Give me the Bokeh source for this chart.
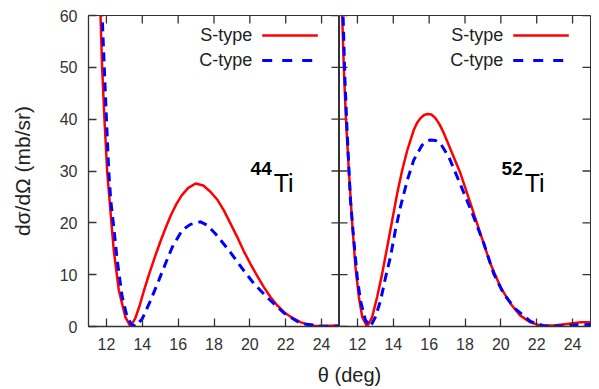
import math
from bokeh.plotting import figure
from bokeh.layouts import row, column
from bokeh.models import Range1d, FixedTicker, Label
from bokeh.embed import file_html
from bokeh.resources import INLINE

FONT = "Liberation Sans"
AX = "#333333"

# ---------------- data ----------------
x_ticks = [12, 14, 16, 18, 20, 22, 24]
y_ticks = [0, 10, 20, 30, 40, 50, 60]
series_names = ["S-type", "C-type"]

# 44Ti
th44_s = [11.5, 11.67, 11.76, 11.89, 12.04, 12.23, 12.41, 12.69, 13.06, 13.34, 13.6, 13.85,
          14.1, 14.4, 14.7, 15.0, 15.3, 15.6, 15.9, 16.2, 16.55, 16.97, 17.4, 17.8,
          18.2, 18.55, 18.9, 19.29, 19.65, 20.03, 20.4, 20.78, 21.15, 21.52, 22.0, 22.45,
          22.85, 23.2, 23.6, 24.0, 25.0]
s44 = [78, 60, 50, 40, 30, 22, 14.7, 7.0, 1.8, 0, 1.5, 4.0,
       7.0, 10.3, 13.4, 16.3, 19.0, 21.5, 23.6, 25.3, 26.7, 27.6, 27.2, 26.0,
       24.4, 22.4, 20.0, 17.3, 14.6, 12.1, 9.8, 7.6, 5.7, 4.1, 2.5, 1.5,
       0.8, 0.4, 0.15, 0.1, 0.2]
th44_c = [11.5, 11.76, 12.0, 12.13, 12.25, 12.41, 12.6, 12.88, 13.16, 13.4, 13.62, 14.0,
          14.46, 14.92, 15.29, 15.67, 16.23, 16.69, 17.25, 17.6, 18.08, 18.83, 19.57, 20.22,
          20.97, 21.9, 22.82, 24.0, 25.0]
c44 = [76, 60, 40, 30, 24, 19.2, 12.8, 5.7, 1.8, 0.4, 0, 1.5,
       5.0, 8.9, 12.1, 15.3, 18.6, 19.7, 20.2, 19.6, 17.9, 14.7, 11.2, 8.3,
       5.6, 2.6, 0.6, 0.05, 0.05]

# 52Ti
th52_s = [11.0, 11.15, 11.24, 11.36, 11.52, 11.71, 11.89, 12.08, 12.27, 12.54, 12.82, 13.1,
          13.38, 13.66, 13.94, 14.22, 14.5, 14.78, 15.14, 15.33, 15.52, 15.72, 15.92, 16.12,
          16.35, 16.58, 16.82, 17.37, 17.75, 18.31, 18.86, 19.42, 19.98, 20.54, 21.09, 21.65,
          22.21, 22.95, 23.7, 24.45, 25.0]
s52 = [80, 60, 50, 40, 30.2, 19.9, 11.5, 5.7, 1.8, 0, 1.8, 5.7,
       10.2, 15.3, 20.5, 25.7, 30.2, 34.0, 37.9, 39.3, 40.2, 40.8, 41.0, 40.9,
       40.2, 39.0, 37.3, 32.7, 29.5, 23.7, 17.9, 12.1, 7.6, 4.4, 2.1, 0.8,
       0.2, 0.2, 0.5, 0.8, 0.8]
th52_c = [11.0, 11.2, 11.3, 11.42, 11.61, 11.8, 11.99, 12.17, 12.45, 12.73, 13.0, 13.29,
          13.57, 13.84, 14.12, 14.4, 14.78, 15.14, 15.61, 15.85, 16.08, 16.35, 16.63, 17.1,
          17.56, 18.03, 18.49, 19.05, 19.6, 20.16, 20.81, 21.65, 22.4, 23.3, 24.2, 25.0]
c52 = [80, 60, 48, 38, 24.4, 16.6, 9.5, 5.0, 1.2, 0, 1.8, 5.0,
       9.5, 13.4, 18.6, 23.1, 28.2, 32.1, 35.0, 35.7, 36.0, 35.9, 35.3, 32.7,
       28.9, 25.0, 21.1, 16.0, 10.2, 6.3, 3.4, 1.0, 0.1, 0.1, 0.3, 0.4]

RED = "#ff0000"
BLUE = "#0000ff"
DASH = "9 6"


def panel(width, left_border, right_border, show_y, th_s, ys, th_c, yc, mass):
    kw = dict(width=width, height=359, x_range=Range1d(11, 25), y_range=Range1d(0, 60),
              output_backend="svg", toolbar_location=None,
              min_border_left=left_border, min_border_right=right_border,
              min_border_top=15, min_border_bottom=33)
    if not show_y:
        kw["y_axis_location"] = None
    p = figure(**kw)
    p.xgrid.visible = False
    p.ygrid.visible = False
    p.outline_line_color = AX
    p.outline_line_width = 1.0
    p.outline_line_alpha = 1.0
    p.background_fill_color = "white"
    p.border_fill_color = "white"

    axes = [p.xaxis[0]] + ([p.yaxis[0]] if show_y else [])
    for ax in axes:
        ax.major_tick_in = 8
        ax.major_tick_out = 0
        ax.minor_tick_line_color = None
        ax.major_tick_line_color = AX
        ax.major_tick_line_width = 1.3
        ax.axis_line_color = AX
        ax.axis_line_width = 1.3
        ax.major_label_text_font = FONT
        ax.major_label_text_font_size = "16px"
        ax.major_label_text_color = AX
        ax.major_label_standoff = 11
    p.xaxis.ticker = FixedTicker(ticks=x_ticks)
    if show_y:
        p.yaxis.ticker = FixedTicker(ticks=y_ticks)
        p.yaxis.axis_label = "dσ/dΩ (mb/sr)"
        p.yaxis.axis_label_text_font = FONT
        p.yaxis.axis_label_text_font_size = "21px"
        p.yaxis.axis_label_text_font_style = "normal"
        p.yaxis.axis_label_text_color = "#222222"
        p.yaxis.axis_label_standoff = 23

    # mirrored inward ticks (top, right, and left where no axis)
    p.scatter(x=x_ticks, y=[60] * len(x_ticks), marker="dash", angle=math.pi / 2,
              size=16, line_color=AX, line_width=1.3)
    p.scatter(x=[25] * len(y_ticks), y=y_ticks, marker="dash", size=16,
              line_color=AX, line_width=1.3)
    if not show_y:
        p.scatter(x=[11] * len(y_ticks), y=y_ticks, marker="dash", size=16,
                  line_color=AX, line_width=1.3)

    # curves
    p.line(th_s, ys, line_color=RED, line_width=2.5)
    p.line(th_c, yc, line_color=BLUE, line_width=3, line_dash=DASH)

    # key (gnuplot style: label then sample)
    p.add_layout(Label(x=20.13, y=56.2, text=series_names[0], text_align="right",
                       text_baseline="middle", text_font=FONT, text_font_size="18px",
                       text_color="#222222"))
    p.add_layout(Label(x=20.13, y=51.4, text=series_names[1], text_align="right",
                       text_baseline="middle", text_font=FONT, text_font_size="18px",
                       text_color="#222222"))
    p.line([20.69, 23.79], [56.15, 56.15], line_color=RED, line_width=2.5)
    p.line([20.69, 23.5], [51.3, 51.3], line_color=BLUE, line_width=3, line_dash="10 10")

    # nucleus label
    p.add_layout(Label(x=20.04, y=30.5, text=mass, text_align="left",
                       text_baseline="alphabetic", text_font=FONT, text_font_size="19px",
                       text_font_style="bold", text_color="black"))
    p.add_layout(Label(x=21.33, y=27.7, text="Ti", text_align="left",
                       text_baseline="alphabetic", text_font=FONT, text_font_size="25px",
                       text_color="black"))
    return p


p1 = panel(339, 88, 0, True, th44_s, s44, th44_c, c44, "44")
p2 = panel(252, 0, 1, False, th52_s, s52, th52_c, c52, "52")

p3 = figure(width=591, height=29, x_range=Range1d(0, 591), y_range=Range1d(0, 29),
            output_backend="svg", toolbar_location=None, min_border=0,
            x_axis_location=None, y_axis_location=None)
p3.outline_line_color = None
p3.xgrid.visible = False
p3.ygrid.visible = False
p3.add_layout(Label(x=349, y=14, text="θ (deg)", text_align="center",
                    text_baseline="alphabetic", text_font=FONT, text_font_size="20px",
                    text_color="#222222"))

layout = column(row(p1, p2), p3)
open("out.html", "w").write(file_html(layout, INLINE))
